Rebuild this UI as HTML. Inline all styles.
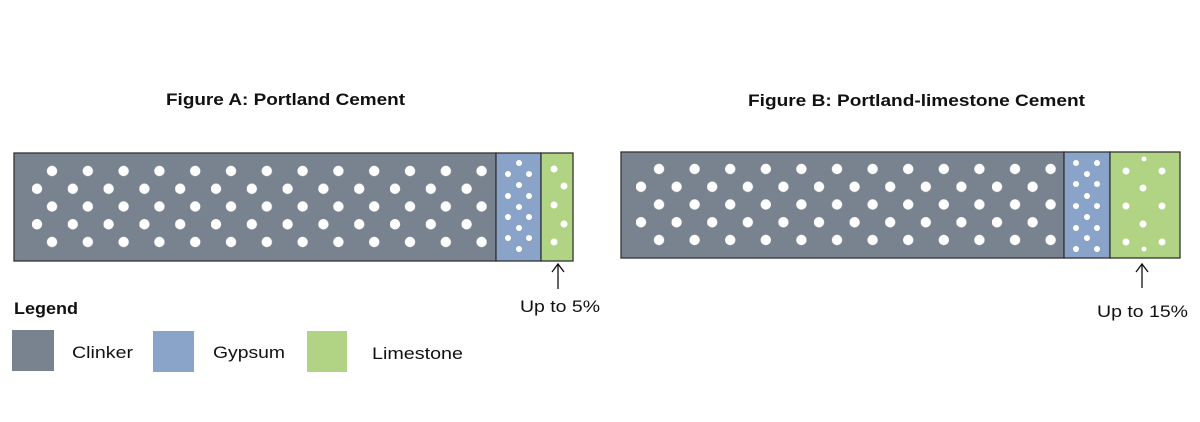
<!DOCTYPE html>
<html><head><meta charset="utf-8"><style>
html,body{margin:0;padding:0;background:#fff;}
svg{display:block;}
text{font-family:"Liberation Sans",sans-serif;fill:#111;}
</style></head><body>
<svg width="1200" height="422" viewBox="0 0 1200 422" xmlns="http://www.w3.org/2000/svg">
<defs>
<pattern id="pa" patternUnits="userSpaceOnUse" x="32" y="162.125" width="35.8" height="35.5">
<circle cx="20" cy="8.875" r="5.2" fill="#fff"/>
<circle cx="5" cy="26.625" r="5.2" fill="#fff"/>
</pattern>
<pattern id="pb" patternUnits="userSpaceOnUse" x="636" y="160.125" width="35.6" height="35.5">
<circle cx="23" cy="8.875" r="5.2" fill="#fff"/>
<circle cx="5" cy="26.625" r="5.2" fill="#fff"/>
</pattern>
</defs>
<text x="166" y="105" font-size="17" font-weight="bold" textLength="239" lengthAdjust="spacingAndGlyphs">Figure A: Portland Cement</text>
<text x="748" y="106" font-size="17" font-weight="bold" textLength="337" lengthAdjust="spacingAndGlyphs">Figure B: Portland-limestone Cement</text>

<!-- Figure A -->
<rect x="14" y="153" width="482" height="108" fill="#78838f" stroke="#333" stroke-width="1.3"/>
<rect x="30" y="160" width="460" height="92" fill="url(#pa)"/>
<rect x="496" y="153" width="45" height="108" fill="#8aa3c8" stroke="#333" stroke-width="1.3"/>
<rect x="541" y="153" width="32" height="108" fill="#b0d484" stroke="#333" stroke-width="1.3"/>
<g fill="#fff">
<circle cx="519" cy="163" r="3"/><circle cx="519" cy="185" r="3"/><circle cx="519" cy="207" r="3"/><circle cx="519" cy="228" r="3"/><circle cx="519" cy="249" r="3"/>
<circle cx="508" cy="174" r="3"/><circle cx="529" cy="174" r="3"/><circle cx="508" cy="196" r="3"/><circle cx="529" cy="196" r="3"/>
<circle cx="508" cy="217" r="3"/><circle cx="529" cy="217" r="3"/><circle cx="508" cy="238" r="3"/><circle cx="529" cy="238" r="3"/>
<circle cx="554" cy="169" r="3.5"/><circle cx="554" cy="205" r="3.5"/><circle cx="554" cy="242" r="3.5"/>
<circle cx="564" cy="186" r="3.5"/><circle cx="564" cy="224" r="3.5"/>
</g>
<line x1="558" y1="264" x2="558" y2="289" stroke="#111" stroke-width="1.3"/>
<polyline points="552,272 558,264 564,272" fill="none" stroke="#111" stroke-width="1.3"/>
<text x="520" y="312" font-size="17" textLength="80" lengthAdjust="spacingAndGlyphs">Up to 5%</text>

<!-- Figure B -->
<rect x="621" y="152" width="443" height="106" fill="#78838f" stroke="#333" stroke-width="1.3"/>
<rect x="632" y="158" width="424" height="92" fill="url(#pb)"/>
<rect x="1064" y="152" width="46" height="106" fill="#8aa3c8" stroke="#333" stroke-width="1.3"/>
<rect x="1110" y="152" width="70" height="106" fill="#b0d484" stroke="#333" stroke-width="1.3"/>
<g fill="#fff">
<circle cx="1076" cy="163" r="3"/><circle cx="1097" cy="163" r="3"/><circle cx="1076" cy="184" r="3"/><circle cx="1097" cy="184" r="3"/>
<circle cx="1076" cy="206" r="3"/><circle cx="1097" cy="206" r="3"/><circle cx="1076" cy="228" r="3"/><circle cx="1097" cy="228" r="3"/>
<circle cx="1076" cy="249" r="3"/><circle cx="1097" cy="249" r="3"/>
<circle cx="1087" cy="174" r="3"/><circle cx="1087" cy="196" r="3"/><circle cx="1087" cy="217" r="3"/><circle cx="1087" cy="238" r="3"/>
<circle cx="1144" cy="159" r="2.5"/><circle cx="1144" cy="249" r="2.5"/>
<circle cx="1126" cy="171" r="3.5"/><circle cx="1162" cy="171" r="3.5"/>
<circle cx="1143" cy="188" r="3.5"/>
<circle cx="1126" cy="206" r="3.5"/><circle cx="1162" cy="206" r="3.5"/>
<circle cx="1143" cy="224" r="3.5"/>
<circle cx="1126" cy="242" r="3.5"/><circle cx="1162" cy="242" r="3.5"/>
</g>
<line x1="1142" y1="264" x2="1142" y2="288" stroke="#111" stroke-width="1.3"/>
<polyline points="1136,272 1142,264 1148,272" fill="none" stroke="#111" stroke-width="1.3"/>
<text x="1097" y="317" font-size="17" textLength="91" lengthAdjust="spacingAndGlyphs">Up to 15%</text>

<!-- Legend -->
<text x="14" y="314" font-size="17" font-weight="bold" textLength="64" lengthAdjust="spacingAndGlyphs">Legend</text>
<rect x="12" y="330" width="42" height="41" fill="#78838f"/>
<text x="72" y="358" font-size="17" textLength="61" lengthAdjust="spacingAndGlyphs">Clinker</text>
<rect x="153" y="331" width="41" height="41" fill="#8aa3c8"/>
<text x="213" y="358" font-size="17" textLength="72" lengthAdjust="spacingAndGlyphs">Gypsum</text>
<rect x="307" y="331" width="40" height="41" fill="#b0d484"/>
<text x="372" y="359" font-size="17" textLength="91" lengthAdjust="spacingAndGlyphs">Limestone</text>
</svg>
</body></html>
